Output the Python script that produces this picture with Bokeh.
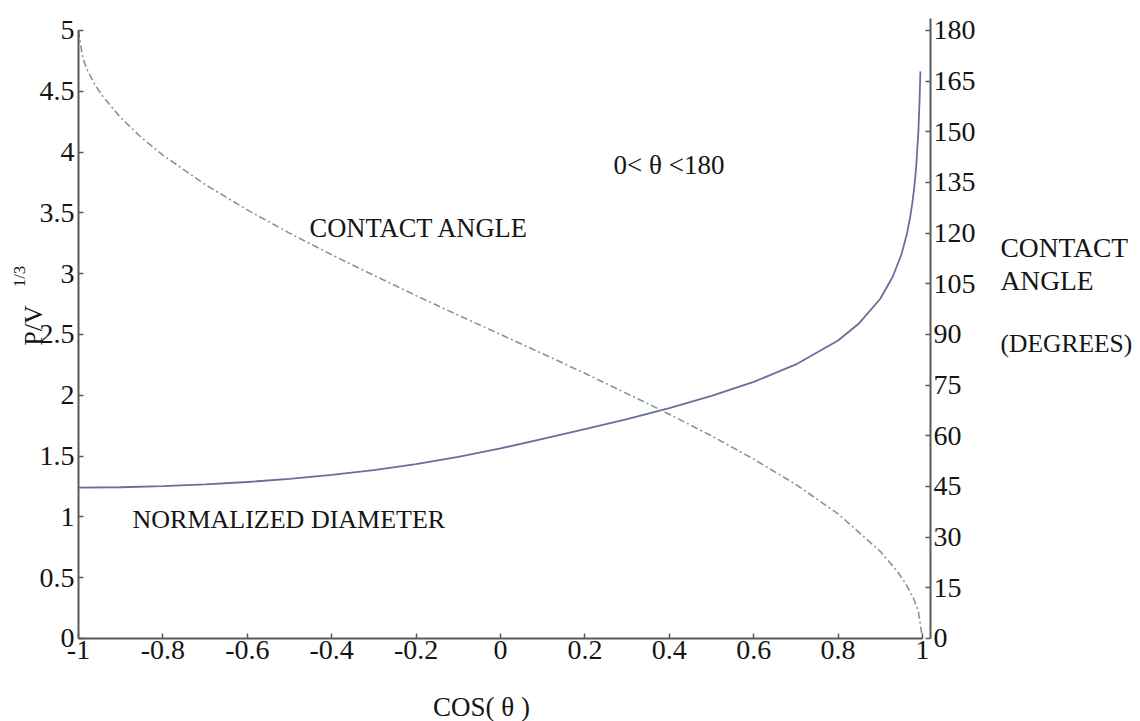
from bokeh.plotting import figure
from bokeh.models import Range1d, LinearAxis, FixedTicker, Label
from bokeh.embed import file_html
from bokeh.resources import INLINE

# cos(theta) samples and the normalized drop diameter P/V^(1/3)
cos_d = [-1.0, -0.9, -0.8, -0.7, -0.6, -0.5, -0.4, -0.3, -0.2, -0.1, 0.0,
         0.1, 0.2, 0.3, 0.4, 0.5, 0.6, 0.7, 0.8, 0.85, 0.9, 0.93, 0.95,
         0.963, 0.97, 0.975, 0.98, 0.983, 0.985, 0.99, 0.993, 0.995]
diameter = [1.241, 1.244, 1.253, 1.267, 1.287, 1.313, 1.345, 1.385, 1.434,
            1.493, 1.563, 1.642, 1.722, 1.805, 1.895, 1.995, 2.110, 2.254,
            2.451, 2.593, 2.794, 2.979, 3.158, 3.327, 3.451, 3.559, 3.696,
            3.800, 3.880, 4.153, 4.418, 4.664]

# cos(theta) samples and contact angle theta in degrees
cos_a = [-1.0, -0.99, -0.98, -0.96, -0.94, -0.9, -0.85, -0.8, -0.7, -0.6,
         -0.5, -0.4, -0.3, -0.2, -0.1, 0.0, 0.1, 0.2, 0.3, 0.4, 0.5, 0.6,
         0.7, 0.8, 0.9, 0.94, 0.96, 0.98, 0.99, 1.0]
angle_deg = [180.0, 171.9, 168.5, 163.7, 160.1, 154.2, 148.2, 143.1, 134.4,
             126.9, 120.0, 113.6, 107.5, 101.5, 95.7, 90.0, 84.3, 78.5, 72.5,
             66.4, 60.0, 53.1, 45.6, 36.9, 25.8, 19.9, 16.3, 11.5, 8.1, 0.0]

x_ticks = [-1.0, -0.8, -0.6, -0.4, -0.2, 0.0, 0.2, 0.4, 0.6, 0.8, 1.0]
x_tick_labels = ["-1", "-0.8", "-0.6", "-0.4", "-0.2", "0", "0.2", "0.4",
                 "0.6", "0.8", "1"]
y_ticks = [0.0, 0.5, 1.0, 1.5, 2.0, 2.5, 3.0, 3.5, 4.0, 4.5, 5.0]
y_tick_labels = ["0", "0.5", "1", "1.5", "2", "2.5", "3", "3.5", "4", "4.5", "5"]
deg_ticks = [0, 15, 30, 45, 60, 75, 90, 105, 120, 135, 150, 165, 180]

SERIF = "Liberation Serif"
AXIS_COLOR = "#595959"
TEXT_COLOR = "#151515"

# The plot area fills the whole canvas; the axes sit at fixed data positions
# so that titles and notes around them stay inside the drawable region.
X_LO, X_HI = -1.18483, 1.51659      # cos(theta)
Y_LO, Y_HI = -0.68257, 5.24671      # P/V^(1/3)
DEG_PER_UNIT = 36.0                  # 5 units <-> 180 degrees
X_RIGHT = 1.019                      # location of the degree axis

p = figure(width=1140, height=721, output_backend="svg", toolbar_location=None,
           x_range=Range1d(X_LO, X_HI), y_range=Range1d(Y_LO, Y_HI),
           x_axis_location=None, y_axis_location=None,
           min_border_left=0, min_border_right=0,
           min_border_top=0, min_border_bottom=0)
p.extra_y_ranges = {"deg": Range1d(Y_LO * DEG_PER_UNIT, Y_HI * DEG_PER_UNIT)}
p.outline_line_color = None
p.grid.visible = False
p.background_fill_color = "white"
p.border_fill_color = "white"


def make_axis(ticks, labels, standoff, **kw):
    ax = LinearAxis(ticker=FixedTicker(ticks=ticks), **kw)
    if labels is not None:
        ax.major_label_overrides = {t: s for t, s in zip(ticks, labels)}
    ax.axis_line_color = AXIS_COLOR
    ax.axis_line_width = 2
    ax.major_tick_line_color = AXIS_COLOR
    ax.major_tick_line_width = 1.5
    ax.major_tick_in = 5
    ax.major_tick_out = 0
    ax.minor_tick_line_color = None
    ax.major_label_text_font = SERIF
    ax.major_label_text_font_size = "28px"
    ax.major_label_text_color = TEXT_COLOR
    ax.major_label_standoff = standoff
    return ax


x_axis = make_axis(x_ticks, x_tick_labels, 3, fixed_location=0.0,
                   bounds=(-1.0, 1.0))
y_axis = make_axis(y_ticks, y_tick_labels, 4, fixed_location=-1.0,
                   bounds=(0.0, 5.0))
deg_axis = make_axis(deg_ticks, None, 3, fixed_location=X_RIGHT,
                     y_range_name="deg", bounds=(0.0, 183.6))
p.add_layout(x_axis, "below")
p.add_layout(y_axis, "left")
p.add_layout(deg_axis, "right")

# curves
p.line(cos_d, diameter, line_color="#6c6c9d", line_width=1.8)
p.line(cos_a, angle_deg, y_range_name="deg", line_color="#7d9c87",
       line_width=1.6, line_dash="7 3 2 3")


def add_text(x, y, s, size="26px", align="left", baseline="alphabetic", angle=0.0):
    p.add_layout(Label(x=x, y=y, text=s, text_font=SERIF, text_font_size=size,
                       text_color=TEXT_COLOR, text_align=align,
                       text_baseline=baseline, angle=angle))


add_text(-0.4526, 3.372, "CONTACT ANGLE", size="26.5px")
add_text(-0.872, 0.979, "NORMALIZED DIAMETER", size="26px")
add_text(0.268, 3.89, "0< \u03b8 <180", size="27px")
add_text(-0.045, -0.567, "COS( \u03b8 )", size="27px", align="center")

# title of the degree axis
add_text(1.18483, 3.2155, "CONTACT", size="27.5px")
add_text(1.18483, 2.944, "ANGLE", size="27.5px")
add_text(1.18483, 2.426, "(DEGREES)", size="25.5px")

# title of the P/V^(1/3) axis
add_text(-1.1066, 2.574, "P/V", size="26px", align="center", baseline="middle",
         angle=1.5708)
add_text(-1.1398, 2.977, "1/3", size="17px", align="center", baseline="middle",
         angle=1.5708)

open("out.html", "w").write(file_html(p, INLINE))
